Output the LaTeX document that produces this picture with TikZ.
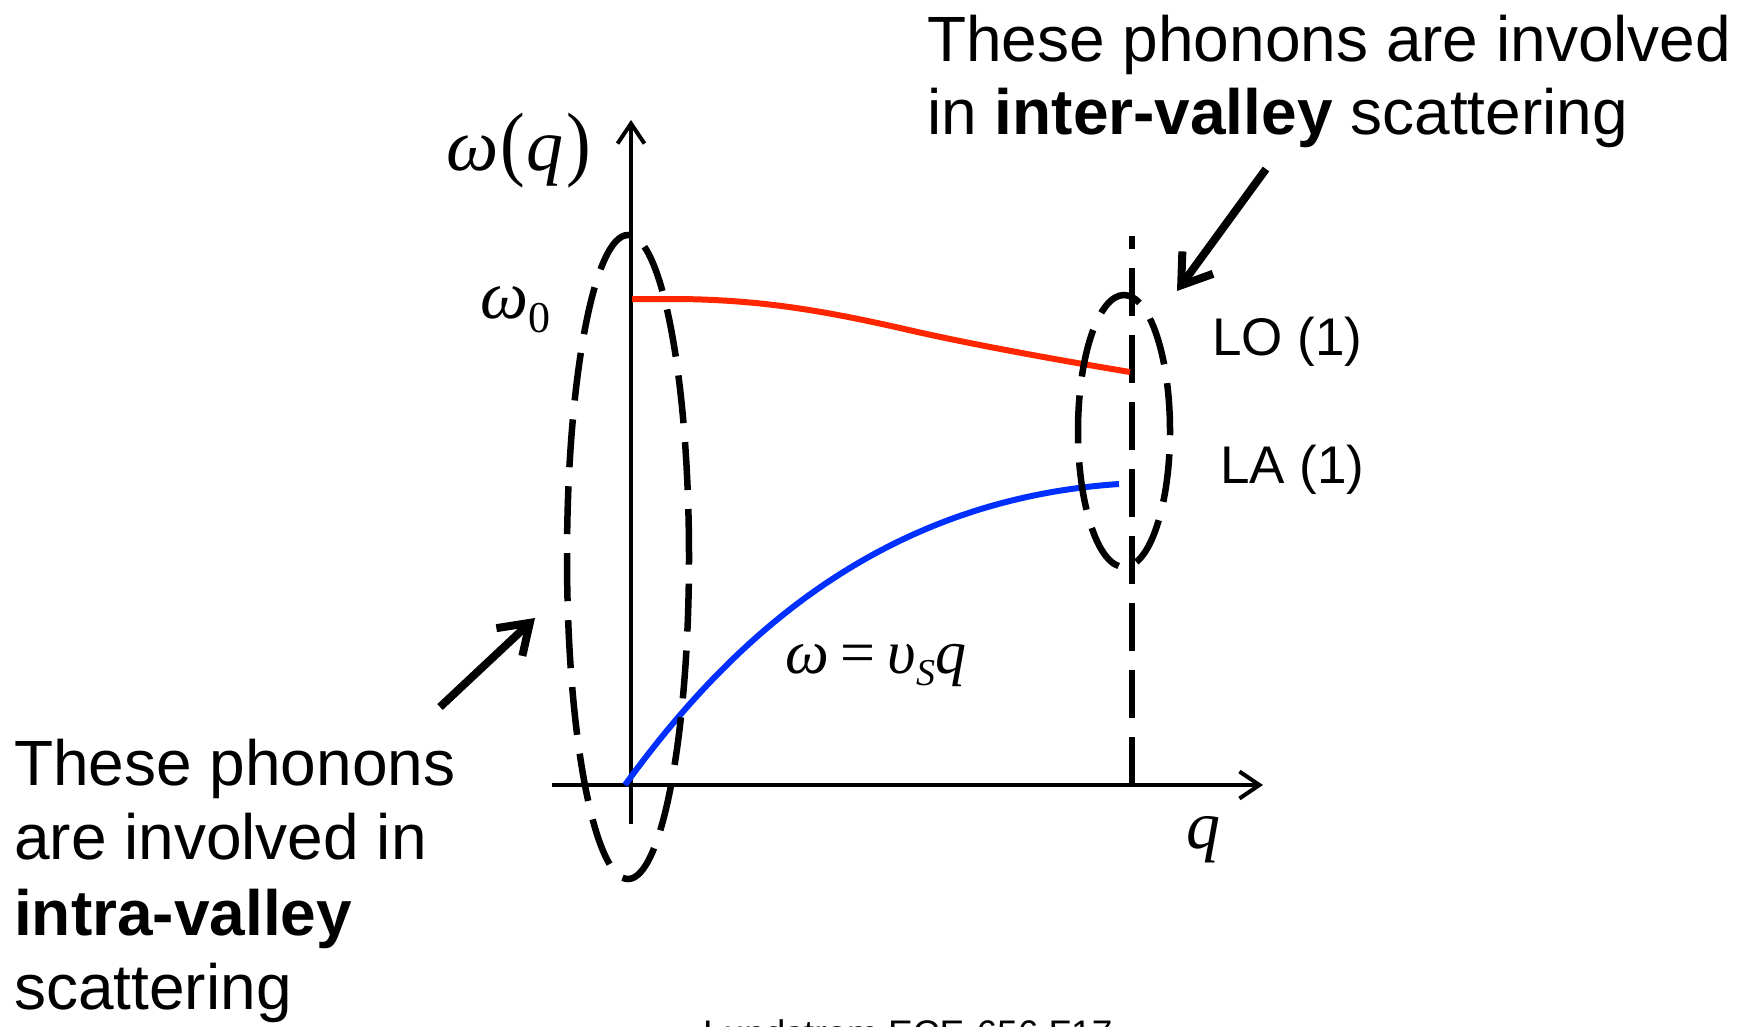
\documentclass[tikz,border=0pt]{standalone}
\usepackage{fontspec}
\setmainfont{Liberation Sans}
\newfontfamily\tms{Liberation Serif}
\usetikzlibrary{arrows.meta}
\definecolor{phRed}{RGB}{255,38,0}
\definecolor{phBlue}{RGB}{0,48,255}
\begin{document}
\begin{tikzpicture}[x=1pt,y=-1pt,
  axisline/.style={line width=3.6pt, -{Straight Barb[length=20pt,width=27pt,line width=4pt]}},
  dsh/.style={line width=6.5pt, dash pattern=on 48pt off 19pt},
  curveR/.style={line width=6pt, color=phRed},
  curveB/.style={line width=6pt, color=phBlue},
  pointer/.style={line width=8pt, -{Straight Barb[length=28pt,width=38pt,line width=8pt]}},
  txt/.style={font=\fontsize{64}{74}\selectfont, inner sep=0pt, anchor=base west},
  lbl/.style={font=\fontsize{53}{60}\selectfont, inner sep=0pt, anchor=base west},
  mth/.style={inner sep=0pt, anchor=base west}]
\useasboundingbox (0,0) rectangle (1745,1026);

% axes
\coordinate (vb) at (631,824);
\coordinate (vt) at (631,120);
\coordinate (hl) at (552,785);
\coordinate (hr) at (1263,785);
\draw[axisline] (vb) -- (vt);
\draw[axisline] (hl) -- (hr);

% zone-boundary dashed line
\coordinate (tb) at (1132,785);
\coordinate (tt) at (1132,236);
\draw[dsh] (tb) -- (tt);

% dispersion curves
\coordinate (r0) at (632,299);
\coordinate (r1) at (1130,372);
\draw[curveR] (r0) -- (680,299) .. controls (760,300) and (820,310) .. (900,328) .. controls (960,342) and (1040,357) .. (r1);
\coordinate (b0) at (625,785);
\coordinate (b1) at (1119,484);
\draw[curveB] (b0) .. controls (730,640) and (880,500) .. (b1);

% dashed ellipses
\coordinate (eL) at (628,557);
\coordinate (eR) at (1124,431);
\draw[dsh] (eL) ellipse [x radius=61pt, y radius=322pt];
\draw[dsh] (eR) ellipse [x radius=46pt, y radius=136pt];

% math labels
\node[mth] (wq) at (446,170) {\fontsize{74}{74}\selectfont\tms\textit{ω}\kern2pt\scalebox{1}[1.12]{(}\kern1pt\textit{q}\kern3pt\scalebox{1}[1.12]{)}};
\node[mth] (w0) at (480,318) {\fontsize{68}{68}\selectfont\tms\textit{ω}\raisebox{-14pt}{\fontsize{44}{44}\selectfont 0}};
\node[mth] (wvq) at (785,673) {\fontsize{62}{62}\selectfont\tms\textit{ω}\kern12pt=\kern12pt\textit{υ}\raisebox{-12pt}{\fontsize{38}{38}\selectfont\textit{S}}\textit{q}};
\node[mth] (ql) at (1186,848) {\fontsize{68}{68}\selectfont\tms\textit{q}};

% branch labels
\node[lbl] (lo) at (1212,355) {LO (1)};
\node[lbl] (la) at (1220,483) {LA (1)};

% annotations
\node[txt] (t1) at (927,61) {These phonons are involved};
\node[txt] (t2) at (927,134) {in \textbf{inter-valley} scattering};
\node[txt] (b1) at (14,785) {These phonons};
\node[txt] (b2) at (14,859) {are involved in};
\node[txt] (b3) at (14,935) {\textbf{intra-valley}};
\node[txt] (b4) at (14,1009) {scattering};

\coordinate (a1s) at (1266,169);
\coordinate (a1e) at (1177,291);
\draw[pointer] (a1s) -- (a1e);
\coordinate (a2s) at (440,707);
\coordinate (a2e) at (535,618);
\draw[pointer] (a2s) -- (a2e);

% footer (cut off by page edge, as in the original)
\node[inner sep=0pt, anchor=base west, font=\fontsize{37}{40}\selectfont] (foot) at (703,1046) {Lundstrom ECE-656 F17};
\end{tikzpicture}
\end{document}
